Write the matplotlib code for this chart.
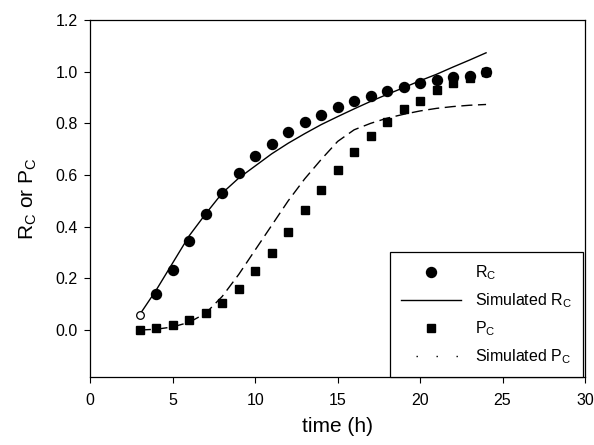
import matplotlib
matplotlib.use('Agg')
import matplotlib.pyplot as plt
from matplotlib.lines import Line2D

plt.rcParams['font.family'] = ['Liberation Sans', 'DejaVu Sans']
plt.rcParams['mathtext.fontset'] = 'custom'
plt.rcParams['mathtext.rm'] = 'Liberation Sans'
plt.rcParams['mathtext.it'] = 'Liberation Sans:italic'

# measured data
hours = [3, 4, 5, 6, 7, 8, 9, 10, 11, 12, 13, 14, 15, 16, 17, 18, 19, 20, 21, 22, 23, 24]
rc_obs = [0.06, 0.139, 0.234, 0.345, 0.449, 0.531, 0.609, 0.674, 0.720, 0.767, 0.804, 0.834,
          0.863, 0.888, 0.906, 0.927, 0.942, 0.957, 0.968, 0.978, 0.985, 0.998]
pc_obs = [0.0, 0.006, 0.018, 0.037, 0.066, 0.104, 0.160, 0.229, 0.298, 0.381, 0.465, 0.543,
          0.620, 0.691, 0.750, 0.805, 0.855, 0.888, 0.929, 0.955, 0.975, 1.0]

# simulated curves
rc_sim = [0.06, 0.155, 0.26, 0.365, 0.45, 0.53, 0.588, 0.635, 0.682, 0.723, 0.76, 0.795,
          0.826, 0.856, 0.885, 0.912, 0.938, 0.965, 0.99, 1.018, 1.045, 1.073]
pc_sim = [0.0, 0.003, 0.012, 0.03, 0.065, 0.13, 0.215, 0.31, 0.405, 0.50, 0.585, 0.66,
          0.73, 0.775, 0.80, 0.82, 0.835, 0.848, 0.858, 0.865, 0.87, 0.873]

fig = plt.figure(figsize=(5.94, 4.45), dpi=100)
ax = fig.add_axes([90.3 / 594, 1 - 377.3 / 445, (585 - 90.3) / 594, (377.3 - 20) / 445])

ax.plot(hours, rc_sim, 'k-', lw=1.0, zorder=2)
ax.plot(hours, pc_sim, 'k-', lw=1.0, dashes=(8, 4), zorder=2)
ax.plot(hours[1:], rc_obs[1:], 'ko', ms=7.2, ls='none', zorder=3)
ax.plot(hours[:1], rc_obs[:1], 'o', ms=5.5, mfc='white', mec='k', mew=0.9, ls='none', zorder=3)
ax.plot(hours, pc_obs, 'ks', ms=6.2, ls='none', zorder=3)

ax.set_xlim(0, 30)
ax.set_ylim(-0.183, 1.2)
ax.set_xticks([0, 5, 10, 15, 20, 25, 30])
ax.set_yticks([0.0, 0.2, 0.4, 0.6, 0.8, 1.0, 1.2])
ax.set_yticklabels(['%.1f' % v for v in [0.0, 0.2, 0.4, 0.6, 0.8, 1.0, 1.2]])
ax.tick_params(direction='out', length=4, width=0.8, labelsize=11.5)
ax.tick_params(axis='x', pad=7)
ax.tick_params(axis='y', pad=5)
for s in ax.spines.values():
    s.set_linewidth(0.9)

ax.set_xlabel('time (h)', fontsize=15, labelpad=7)
ax.set_ylabel(r'R$_{\rm C}$ or P$_{\rm C}$', fontsize=15, labelpad=12)

handles = [
    Line2D([], [], color='k', marker='o', ls='none', ms=7.2),
    Line2D([], [], color='k', lw=1.0),
    Line2D([], [], color='k', marker='s', ls='none', ms=6.2),
    Line2D([], [], color='k', lw=1.0, ls=(3.6, (1, 13.4)), dash_capstyle='butt'),
]
labels = [r'R$_{\rm C}$', r'Simulated R$_{\rm C}$', r'P$_{\rm C}$', r'Simulated P$_{\rm C}$']
leg = ax.legend(handles, labels, loc='lower right', bbox_to_anchor=(0.996, 0.0),
                borderaxespad=0, fontsize=11.5, fancybox=False, edgecolor='k',
                framealpha=1, handlelength=3.7, handletextpad=0.9, borderpad=0.7,
                labelspacing=0.58)
leg.get_frame().set_linewidth(0.9)

fig.savefig('out.png', dpi=100)
